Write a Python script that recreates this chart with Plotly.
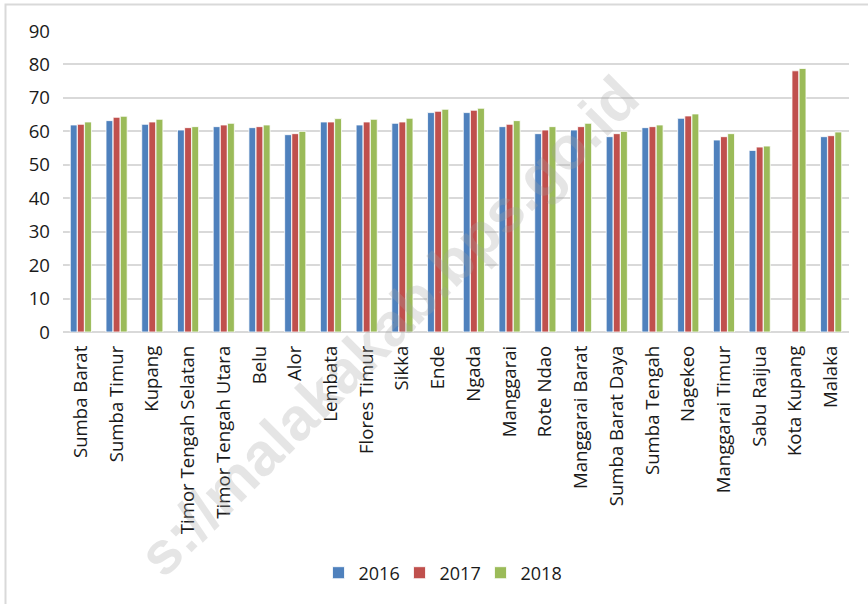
import plotly.graph_objects as go

# Kabupaten/Kota names (x-axis categories)
regions = [
    "Sumba Barat", "Sumba Timur", "Kupang", "Timor Tengah Selatan",
    "Timor Tengah Utara", "Belu", "Alor", "Lembata", "Flores Timur",
    "Sikka", "Ende", "Ngada", "Manggarai", "Rote Ndao", "Manggarai Barat",
    "Sumba Barat Daya", "Sumba Tengah", "Nagekeo", "Manggarai Timur",
    "Sabu Raijua", "Kota Kupang", "Malaka",
]

years = ["2016", "2017", "2018"]

values_2016 = [61.9, 63.2, 62.1, 60.4, 61.4, 61.1, 59.0, 62.8, 61.9, 62.4, 65.6,
               65.6, 61.4, 59.3, 60.4, 58.4, 61.1, 63.9, 57.4, 54.3, None, 58.4]
values_2017 = [62.1, 64.2, 62.8, 61.1, 61.9, 61.4, 59.3, 62.8, 62.8, 62.8, 66.0,
               66.3, 62.1, 60.4, 61.4, 59.3, 61.4, 64.6, 58.4, 55.3, 78.1, 58.7]
values_2018 = [62.8, 64.5, 63.6, 61.4, 62.4, 61.9, 60.0, 63.8, 63.6, 63.9, 66.6,
               66.9, 63.2, 61.4, 62.4, 60.0, 61.9, 65.2, 59.3, 55.6, 78.8, 59.8]

y_ticks = [0, 10, 20, 30, 40, 50, 60, 70, 80, 90]

series = [values_2016, values_2017, values_2018]
colors = ["#4F81BD", "#C0504D", "#9BBB59"]

FONT = "'Open Sans', Lato, sans-serif"

fig = go.Figure()
for name, vals, col in zip(years, series, colors):
    fig.add_trace(go.Bar(
        x=regions, y=vals, name=name,
        marker=dict(color=col, line=dict(color="rgba(255,255,255,0.8)", width=1)),
    ))

W, H = 868, 604
L, R, T, B = 63, 19, 31, 272
pw, ph = W - L - R, H - T - B

fig.update_layout(
    width=W, height=H,
    margin=dict(l=L, r=R, t=T, b=B, pad=0),
    paper_bgcolor="white", plot_bgcolor="white",
    barmode="group", bargap=0.40, bargroupgap=0.04,
    font=dict(family=FONT, size=18, color="#1a1a1a"),
    showlegend=True,
    legend=dict(
        orientation="h", x=0.5 - 16 / pw, xanchor="center",
        y=(T + ph - 573) / ph, yanchor="middle",
        font=dict(size=18), itemwidth=30, traceorder="normal",
        entrywidth=36, entrywidthmode="pixels",
        bgcolor="rgba(0,0,0,0)",
    ),
    xaxis=dict(
        tickangle=-90, showgrid=False, showline=False, ticks="",
        tickfont=dict(size=18.6), ticklabelstandoff=9,
    ),
    yaxis=dict(
        range=[0, 90], tickvals=y_ticks, showgrid=True,
        gridcolor="#d9d9d9", gridwidth=1.5, zeroline=True,
        zerolinecolor="#d9d9d9", zerolinewidth=1.5, showline=False,
        ticks="", tickfont=dict(size=18.6), ticklabelstandoff=12,
    ),
)

# Outer chart frame
fig.add_shape(
    type="rect", xref="paper", yref="paper",
    x0=(5.5 - L) / pw, x1=(W + 10 - L) / pw,
    y0=(T + ph - (H + 10)) / ph, y1=(T + ph - 4.5) / ph,
    line=dict(color="#d9d9d9", width=2), fillcolor="rgba(0,0,0,0)",
    layer="below",
)

# Source watermark
fig.add_annotation(
    text="s://malakakab.bps.go.id",
    xref="paper", yref="paper",
    x=(388 - L) / pw, y=(T + ph - 326) / ph,
    xanchor="center", yanchor="middle", showarrow=False,
    textangle=-45,
    font=dict(family="'Liberation Sans', Arial, sans-serif", size=60,
              color="rgba(160,160,160,0.28)", weight="bold"),
)

fig.write_html("out.html")
